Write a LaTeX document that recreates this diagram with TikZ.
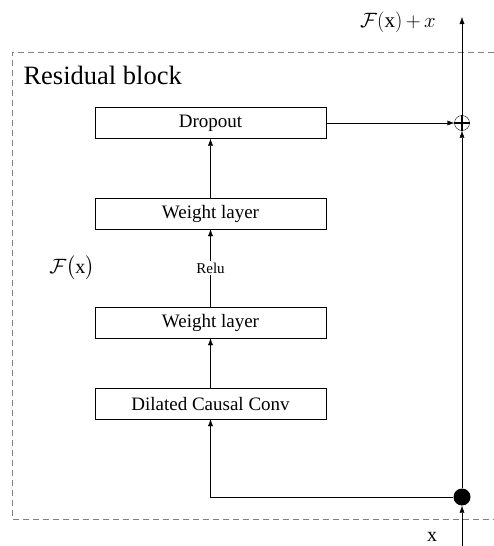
\documentclass[tikz,border=0pt]{standalone}
\usepackage{fontspec}
\setmainfont{Liberation Serif}
\usepackage{amsmath, amssymb}
\usetikzlibrary{arrows.meta}
\usetikzlibrary{positioning}

\tikzset{
    layer/.style = {draw, minimum width = 231pt, minimum height = 31pt, inner sep = 0pt, font = \fontsize{19}{21}\selectfont},
    flow/.style = {-{Latex[length = 7pt, width = 5pt]}},
    blockline/.style = {draw = gray, dash pattern = on 6pt off 4pt}
}

\begin{document}
\begin{tikzpicture}[x = 1pt, y = -1pt]
            \useasboundingbox (0, 0) rectangle (494, 546);

            % dashed frame of the block
            \draw [blockline] (494, 52) -- (12, 52) -- (12, 519) -- (494, 519);
            \node [anchor = west, font = \fontsize{26.5}{28}\selectfont] (title) at (20, 75) {Residual block};

            \node [layer] (drop) at (210.5, 123) {Dropout};
            \node [layer] (wl1) at (210.5, 213.5) {Weight layer};
            \node [layer] (wl2) at (210.5, 322.5) {Weight layer};
            \node [layer] (conv) at (210.5, 403.5) {Dilated Causal Conv};

            \node [draw, circle, minimum size = 15pt, inner sep = 0pt] (sum) at (462, 123) {};
            \draw [line width = 1.3pt] (sum.north) -- (sum.south);
            \draw [line width = 1.3pt] (sum.west) -- (sum.east);
            \node [fill = black, circle, minimum size = 17pt, inner sep = 0pt] (dot) at (462, 497) {};

            \coordinate (xin) at (462, 546);
            \coordinate (out) at (462, 17);

            \draw [flow] (xin) -- (dot);
            \draw [flow] (dot) -| (conv);
            \draw [flow] (dot) -- (sum);
            \draw [flow] (sum) -- (out);
            \draw [flow] (conv) -- (wl2);
            \draw [flow] (wl2) -- node[fill = white, inner sep = 2pt, font = \fontsize{15}{17}\selectfont]{Relu} (wl1);
            \draw [flow] (wl1) -- (drop);
            \draw [flow] (drop) -- (sum);

            \node [font = \fontsize{20}{22}\selectfont] (fx) at (72, 268) {$\mathcal{F}\bigl(\mathrm{x}\bigr)$};
            \node [font = \fontsize{21}{23}\selectfont] (fxx) at (398, 22) {$\mathcal{F}(\mathrm{x})\,{+}\,x$};
            \node [font = \fontsize{20}{22}\selectfont] (xlab) at (432, 537) {x};
        \end{tikzpicture}
\end{document}
